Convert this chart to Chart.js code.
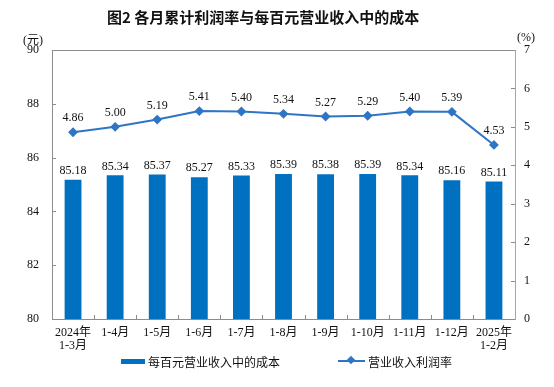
<!DOCTYPE html>
<html>
<head>
<meta charset="utf-8">
<script src="https://cdn.jsdelivr.net/npm/chart.js@4.4.1/dist/chart.umd.min.js"></script>
<style>
  body { margin: 0; background: #fff; }
  #wrap { position: relative; width: 554px; height: 387px; }
  canvas { position: absolute; left: 0; top: 0; }
  .txt { position: absolute; white-space: nowrap; color: #111; }
  #title { left: 107px; top: 6px; font: bold 15px "Noto Sans CJK SC", sans-serif; }
  .unit { font: 12px "Liberation Serif", "Noto Sans CJK SC", serif; }
  .leg { font: 12px "Noto Sans CJK SC", sans-serif; top: 353px; }
  .sw { position: absolute; }
</style>
</head>
<body>
<div id="wrap">
  <canvas id="chart" width="554" height="387"></canvas>
  <div class="txt" id="title">图2&nbsp;各月累计利润率与每百元营业收入中的成本</div>
  <div class="txt unit" style="left:23px; top:30px;">(元)</div>
  <div class="txt unit" style="left:517px; top:30px;">(%)</div>
  <div class="sw" style="left:121px; top:359px; width:24px; height:5px; background:#0070C0;"></div>
  <div class="txt leg" style="left:148px;">每百元营业收入中的成本</div>
  <div class="sw" style="left:338px; top:360px; width:27px; height:2px; background:#2F75C5;"></div>
  <div class="sw" style="left:348px; top:357px; width:6px; height:6px; background:#2F75C5; transform:rotate(45deg);"></div>
  <div class="txt leg" style="left:368px;">营业收入利润率</div>
</div>
<script>
// categories and values
let months = [["2024年", "1-3月"], "1-4月", "1-5月", "1-6月", "1-7月", "1-8月", "1-9月", "1-10月", "1-11月", "1-12月", ["2025年", "1-2月"]];
let costPer100 = [85.18, 85.34, 85.37, 85.27, 85.33, 85.39, 85.38, 85.39, 85.34, 85.16, 85.11];
let profitRate = [4.86, 5.00, 5.19, 5.41, 5.40, 5.34, 5.27, 5.29, 5.40, 5.39, 4.53];
let leftTicks = [80, 82, 84, 86, 88, 90];
let rightTicks = [0, 1, 2, 3, 4, 5, 6, 7];

let axisColor = "#8C8C8C";
let numFont = { family: "'Liberation Serif', 'Noto Sans CJK SC', serif", size: 12 };

// value labels above bars and points
let valueLabels = {
  id: "valueLabels",
  afterDatasetsDraw(chart) {
    let ctx = chart.ctx;
    ctx.save();
    ctx.font = "12px 'Liberation Serif', serif";
    ctx.fillStyle = "#111";
    ctx.textAlign = "center";
    ctx.textBaseline = "bottom";
    chart.data.datasets.forEach((ds, di) => {
      let meta = chart.getDatasetMeta(di);
      let gap = ds.type === "line" ? 8 : 3;
      meta.data.forEach((el, i) => {
        ctx.fillText(ds.data[i].toFixed(2), el.x, el.y - gap);
      });
    });
    ctx.restore();
  }
};

// frame top line + small inward tick marks
let frameTicks = {
  id: "frameTicks",
  afterDraw(chart) {
    let ctx = chart.ctx;
    let a = chart.chartArea;
    ctx.save();
    ctx.strokeStyle = axisColor;
    ctx.lineWidth = 1;
    ctx.beginPath();
    ctx.moveTo(a.left, a.top + 0.5);
    ctx.lineTo(a.right, a.top + 0.5);
    let y = chart.scales.y, y1 = chart.scales.y1, x = chart.scales.x;
    leftTicks.forEach(v => {
      let p = Math.round(y.getPixelForValue(v)) + 0.5;
      ctx.moveTo(a.left, p); ctx.lineTo(a.left + 4, p);
    });
    rightTicks.forEach(v => {
      let p = Math.round(y1.getPixelForValue(v)) + 0.5;
      ctx.moveTo(a.right, p); ctx.lineTo(a.right - 4, p);
    });
    for (let i = 0; i < months.length - 1; i++) {
      let p = Math.round((x.getPixelForValue(i) + x.getPixelForValue(i + 1)) / 2) + 0.5;
      ctx.moveTo(p, a.bottom); ctx.lineTo(p, a.bottom - 4);
    }
    ctx.stroke();
    ctx.restore();
  }
};

new Chart("chart", {
  type: "bar",
  data: {
    labels: months,
    datasets: [{
      type: "line",
      label: "营业收入利润率",
      data: profitRate,
      yAxisID: "y1",
      borderColor: "#2F75C5",
      backgroundColor: "#2F75C5",
      borderWidth: 2,
      pointStyle: "rectRot",
      pointRadius: 3.5,
      tension: 0,
      order: 0
    }, {
      type: "bar",
      label: "每百元营业收入中的成本",
      data: costPer100,
      yAxisID: "y",
      backgroundColor: "#0070C0",
      categoryPercentage: 1,
      barPercentage: 0.4,
      order: 1
    }]
  },
  options: {
    responsive: false,
    animation: false,
    devicePixelRatio: 1,
    layout: { padding: { top: 50, bottom: 28, left: 0, right: 0 } },
    plugins: {
      legend: { display: false },
      title: { display: false },
      tooltip: { enabled: false }
    },
    scales: {
      x: {
        grid: { display: false, drawTicks: false },
        border: { display: true, color: axisColor },
        ticks: {
          color: "#111",
          padding: 7,
          maxRotation: 0,
          autoSkip: false,
          font: { family: "'Liberation Serif', 'Noto Sans CJK SC', serif", size: 12, lineHeight: 1.1 }
        },
        afterFit: (s) => { s.height = 40; }
      },
      y: {
        position: "left",
        min: 80, max: 90,
        afterBuildTicks: (s) => { s.ticks = leftTicks.map(v => ({ value: v })); },
        grid: { display: false, drawTicks: false },
        border: { display: true, color: axisColor },
        ticks: { color: "#111", padding: 13, font: numFont },
        afterFit: (s) => { s.width = 52; }
      },
      y1: {
        position: "right",
        min: 0, max: 7,
        afterBuildTicks: (s) => { s.ticks = rightTicks.map(v => ({ value: v })); },
        grid: { display: false, drawTicks: false },
        border: { display: true, color: "#A6A6A6" },
        ticks: { color: "#111", padding: 9, font: numFont },
        afterFit: (s) => { s.width = 39; }
      }
    }
  },
  plugins: [valueLabels, frameTicks]
});
</script>
</body>
</html>
